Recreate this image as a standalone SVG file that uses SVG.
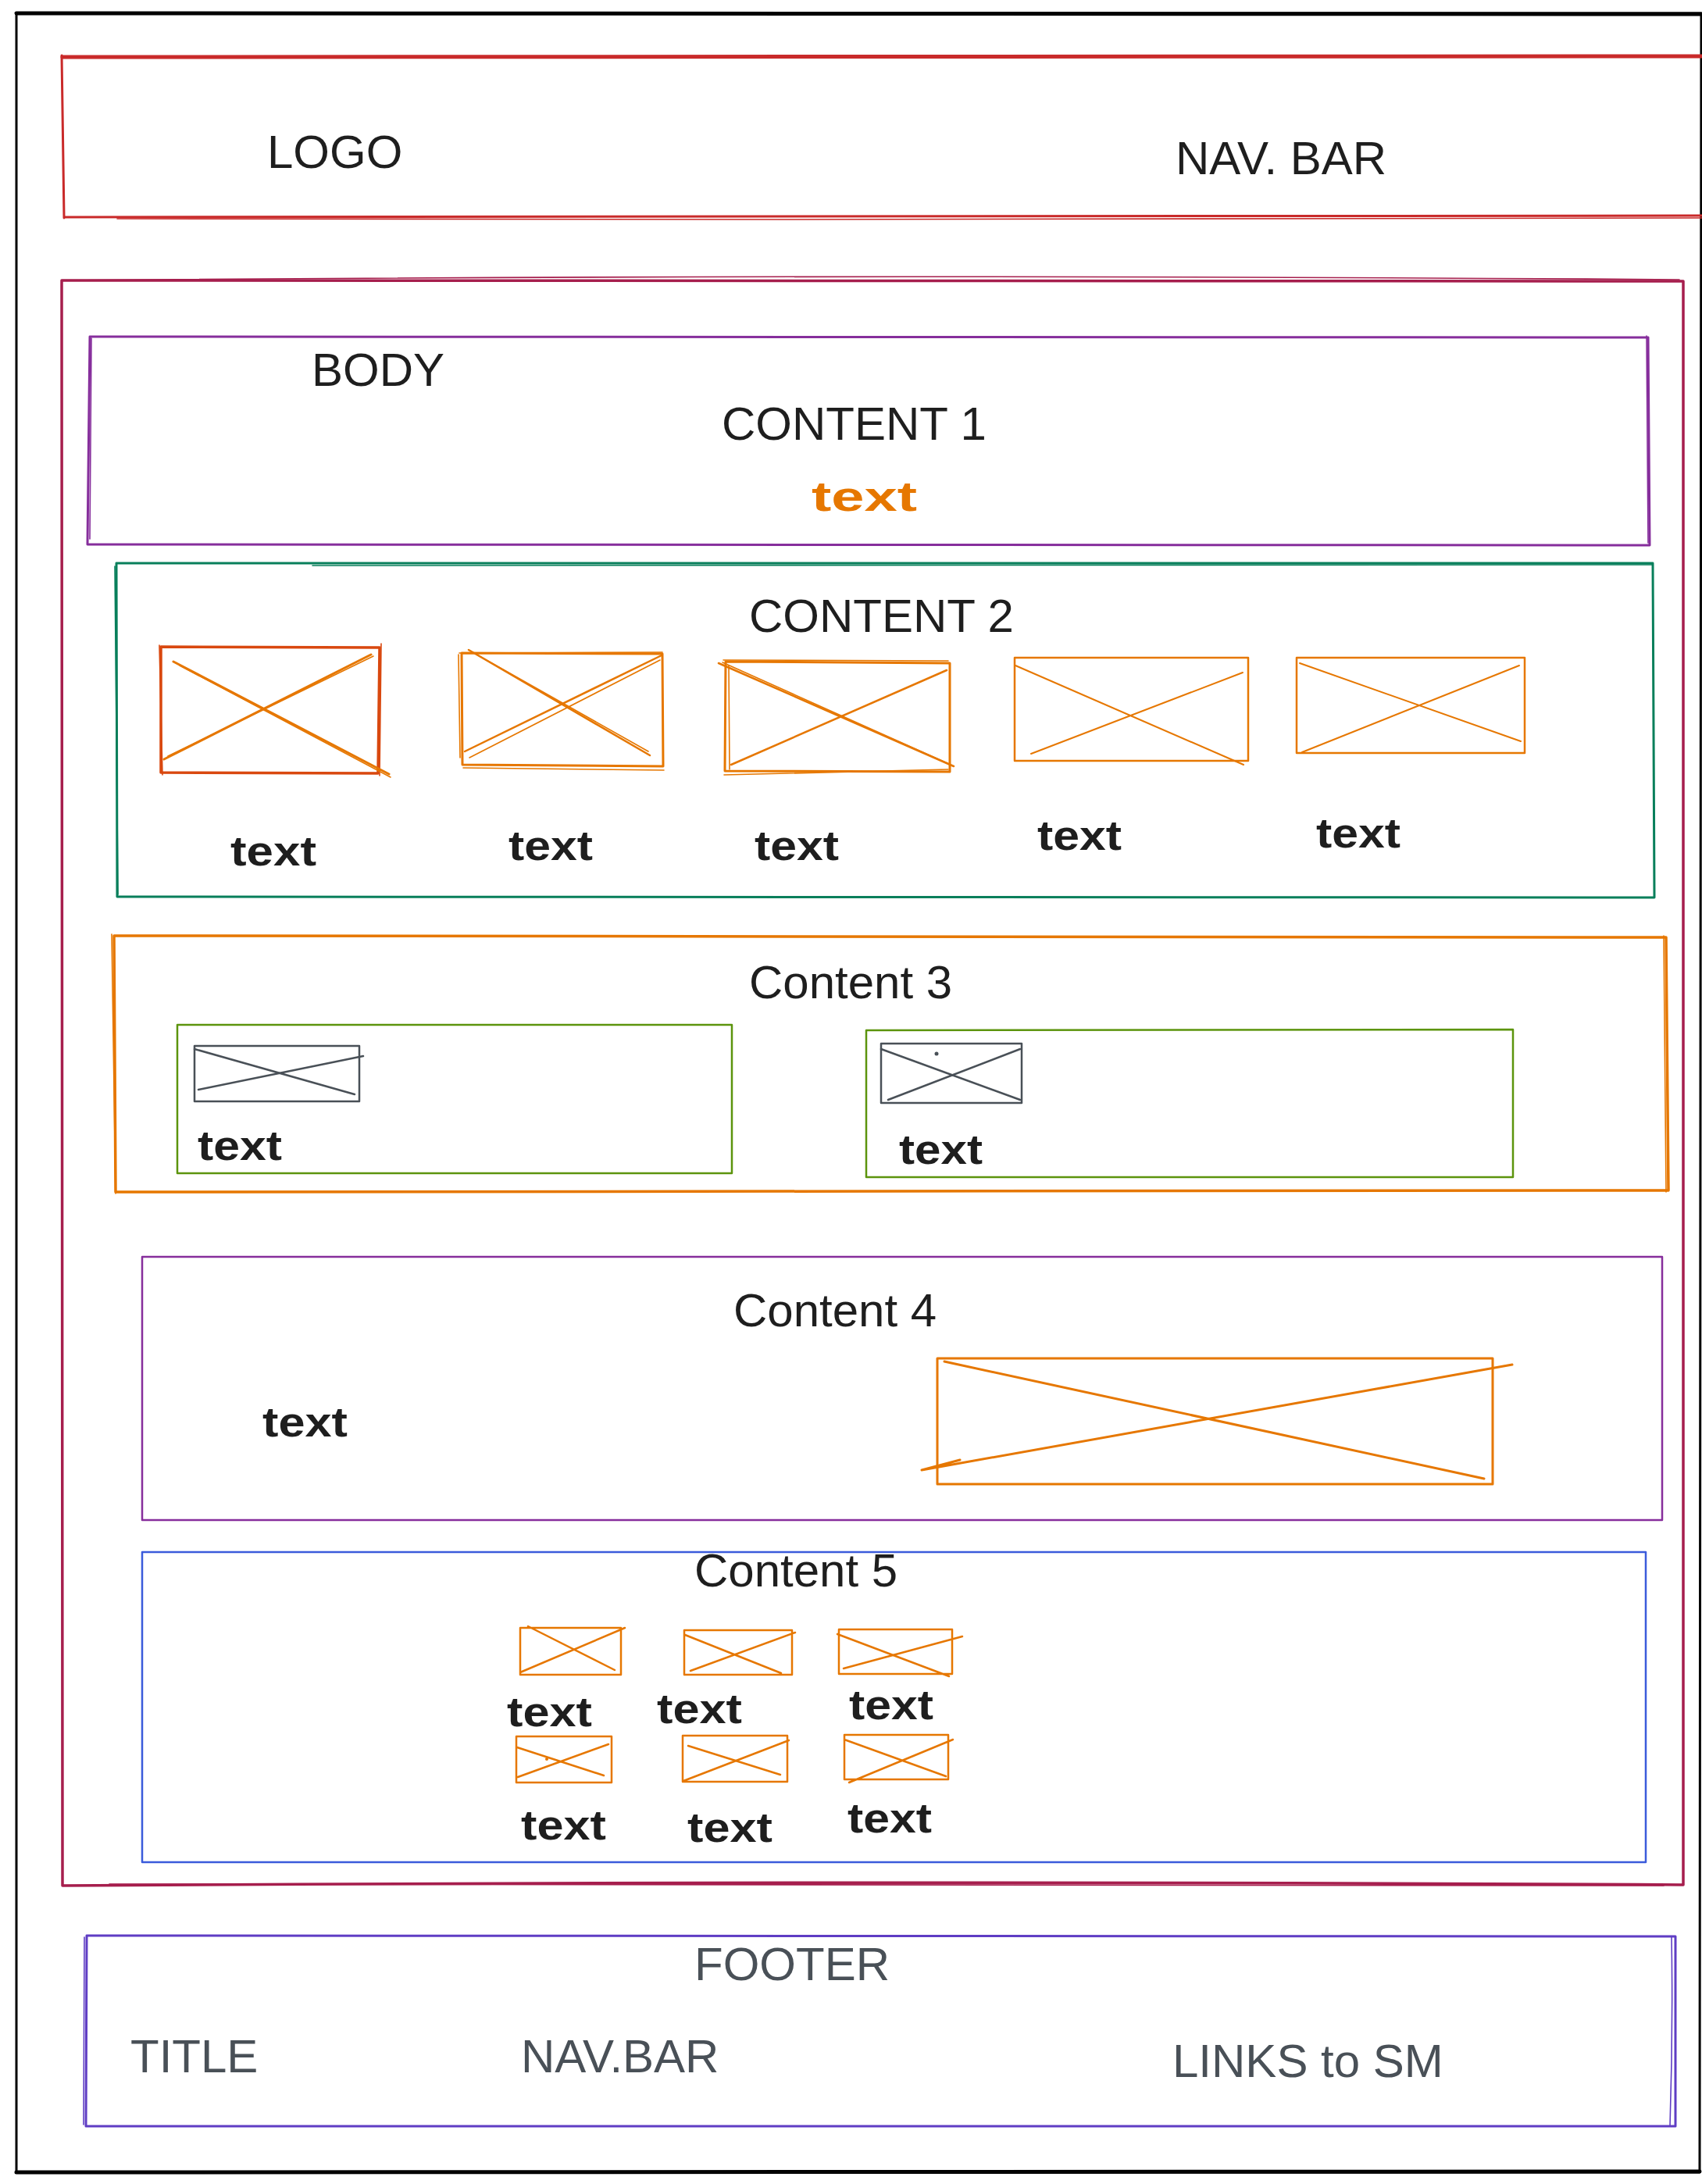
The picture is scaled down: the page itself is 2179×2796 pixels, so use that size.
<svg xmlns="http://www.w3.org/2000/svg" width="2179" height="2796" viewBox="0 0 2179 2796">
<style>
.s{fill:none;stroke-linecap:round;stroke-linejoin:round}
.s2{fill:none;stroke-linecap:round;stroke-linejoin:round;stroke-width:1.6}
.lbl{font-family:"Liberation Sans",Arial,sans-serif;font-size:60px;fill:#1e1e1e}
.gray{fill:#495057}
.hand{font-family:"Liberation Sans",Arial,sans-serif;font-weight:bold;font-size:54px;fill:#1e1e1e}
.orgtxt{fill:#e67700}
.red{stroke:#c92a2a}
.crim{stroke:#a61e4d}
.pur{stroke:#862e9c}
.grn{stroke:#087f5b}
.org{stroke:#e67700}
.dorg{stroke:#d9480f}
.lime{stroke:#5c940d}
.gry{stroke:#495057}
.blu{stroke:#3b5bdb}
.vio{stroke:#5f3dc4}
</style>
<rect width="2179" height="2796" fill="#ffffff"/>

<g id="frame">
<path class="s" stroke="#000" stroke-width="3" d="M21,17 L2178,17 L2176,2781 L21,2781 Z"/>
<path class="s" stroke="#000" stroke-width="5" d="M21,17 L2178,18 M21,2781 L2176,2780"/>
</g>

<g id="header">
<path class="s red" stroke-width="5" d="M80,73 L2179,72"/>
<path class="s red" stroke-width="3" d="M79,71 L82,279 M82,278 L2179,276"/>
<path class="s2 red" d="M150,280 L1000,281 L2179,279"/>
<text class="lbl" x="342" y="215">LOGO</text>
<text class="lbl" x="1505" y="223">NAV. BAR</text>
</g>

<g id="body">
<path class="s crim" stroke-width="3.5" d="M79,359 L2155,360 L2155,2413 Q1100,2407 80,2414 Z"/>
<path class="s2 crim" d="M79,359 Q1100,350 2150,358 M140,2412 Q1200,2409 2130,2414"/>
<text class="lbl" x="399" y="494">BODY</text>
</g>

<g id="content1">
<path class="s pur" stroke-width="3" d="M115,431 L2110,432 L2112,698 L112,697 Z"/>
<path class="s2 pur" d="M117,433 L115,690 M2108,430 L2110,695"/>
<text class="lbl" x="924" y="563">CONTENT 1</text>
<text class="hand orgtxt" x="1039" y="654" font-size="64" textLength="135" lengthAdjust="spacingAndGlyphs">text</text>
</g>

<g id="content2">
<path class="s grn" stroke-width="3" d="M149,721 L2116,721 L2118,1149 L150,1148 Z"/>
<path class="s2 grn" d="M400,724 Q1100,720 2116,723 M147,725 L151,1145"/>
<text class="lbl" x="959" y="809">CONTENT 2</text>

<g id="img2-1">
<path class="s dorg" stroke-width="3.5" d="M206,828 L486,829 L484,990 L206,989 Z"/>
<path class="s2 dorg" d="M204,826 L208,992 M488,824 L486,993"/>
<path class="s org" stroke-width="3" d="M222,847 L498,991 M210,972 L475,838"/>
<path class="s2 org" d="M215,968 L478,840 M230,852 L500,995"/>
</g>
<g id="img2-2">
<path class="s org" stroke-width="3" d="M591,836 L848,837 L849,981 L592,979 Z"/>
<path class="s2 org" d="M587,838 L589,970 M593,983 L850,986 M588,836 L848,835"/>
<path class="s org" stroke-width="2.5" d="M600,832 L832,967 M595,962 L847,839"/>
<path class="s2 org" d="M605,835 L830,962 M601,970 L845,845"/>
</g>
<g id="img2-3">
<path class="s org" stroke-width="3" d="M929,847 L1216,849 L1216,988 L928,987 Z"/>
<path class="s2 org" d="M933,852 L934,985 M927,992 L1214,985 M926,845 L1214,846"/>
<path class="s org" stroke-width="2.5" d="M920,849 L1221,981 M936,979 L1212,858"/>
<path class="s2 org" d="M925,848 L1215,978"/>
</g>
<g id="img2-4">
<path class="s org" stroke-width="2.5" d="M1299,842 L1598,842 L1598,974 L1299,974 Z"/>
<path class="s org" stroke-width="2" d="M1300,852 L1592,979 M1320,965 L1591,861"/>
</g>
<g id="img2-5">
<path class="s org" stroke-width="2.5" d="M1660,842 L1952,842 L1952,964 L1660,964 Z"/>
<path class="s org" stroke-width="2" d="M1664,849 L1947,949 M1667,963 L1945,852"/>
</g>
<text class="hand" x="295" y="1108" textLength="110" lengthAdjust="spacingAndGlyphs">text</text>
<text class="hand" x="651" y="1101" textLength="108" lengthAdjust="spacingAndGlyphs">text</text>
<text class="hand" x="966" y="1101" textLength="108" lengthAdjust="spacingAndGlyphs">text</text>
<text class="hand" x="1328" y="1088" textLength="108" lengthAdjust="spacingAndGlyphs">text</text>
<text class="hand" x="1685" y="1085" textLength="108" lengthAdjust="spacingAndGlyphs">text</text>
</g>

<g id="content3">
<path class="s org" stroke-width="3.5" d="M146,1198 L2133,1200 L2136,1524 L148,1526 Z"/>
<path class="s2 org" d="M143,1196 L148,1528 M2130,1198 L2133,1526"/>
<text class="lbl" x="959" y="1278">Content 3</text>
<g id="card3-1">
<path class="s lime" stroke-width="2.5" d="M227,1312 L937,1312 L937,1502 L227,1502 Z"/>
<path class="s gry" stroke-width="2.5" d="M249,1339 L460,1339 L460,1410 L249,1410 Z"/>
<path class="s gry" stroke-width="2.5" d="M249,1343 L454,1401 M254,1395 L465,1352"/>
<text class="hand" x="253" y="1485" textLength="108" lengthAdjust="spacingAndGlyphs">text</text>
</g>
<g id="card3-2">
<path class="s lime" stroke-width="2.5" d="M1109,1319 L1937,1318 L1937,1507 L1109,1507 Z"/>
<path class="s gry" stroke-width="2.5" d="M1128,1336 L1308,1336 L1308,1412 L1128,1412 Z"/>
<path class="s gry" stroke-width="2.5" d="M1128,1343 L1306,1408 M1137,1408 L1306,1343"/>
<circle cx="1199" cy="1349" r="2.5" fill="#495057"/>
<text class="hand" x="1151" y="1490" textLength="107" lengthAdjust="spacingAndGlyphs">text</text>
</g>
</g>

<g id="content4">
<path class="s pur" stroke-width="2.5" d="M182,1609 L2128,1609 L2128,1946 L182,1946 Z"/>
<text class="lbl" x="939" y="1698">Content 4</text>
<text class="hand" x="336" y="1839" textLength="109" lengthAdjust="spacingAndGlyphs">text</text>
<g id="img4">
<path class="s org" stroke-width="3" d="M1200,1739 L1911,1739 L1911,1900 L1200,1900 Z"/>
<path class="s org" stroke-width="3" d="M1209,1743 L1900,1893 M1936,1747 L1180,1882 L1229,1869"/>
</g>
</g>

<g id="content5">
<path class="s blu" stroke-width="2.5" d="M182,1987 L2107,1987 L2107,2384 L182,2384 Z"/>
<text class="lbl" x="889" y="2031">Content 5</text>
<g id="img5">
<path class="s org" stroke-width="2.5" d="M666,2084 L795,2084 L795,2144 L666,2144 Z M676,2082 L787,2138 M666,2141 L800,2084"/>
<path class="s org" stroke-width="2.5" d="M876,2087 L1014,2087 L1014,2144 L876,2144 Z M877,2093 L1000,2142 M884,2139 L1018,2090"/>
<path class="s org" stroke-width="2.5" d="M1074,2086 L1219,2086 L1219,2143 L1074,2143 Z M1072,2092 L1215,2146 M1080,2136 L1232,2095"/>
<path class="s org" stroke-width="2.5" d="M661,2223 L783,2223 L783,2282 L661,2282 Z M662,2237 L773,2273 M663,2275 L779,2233"/>
<circle cx="700" cy="2252" r="2" fill="#e67700"/>
<path class="s org" stroke-width="2.5" d="M874,2222 L1008,2222 L1008,2281 L874,2281 Z M881,2235 L999,2272 M875,2280 L1010,2228"/>
<path class="s org" stroke-width="2.5" d="M1081,2221 L1214,2221 L1214,2278 L1081,2278 Z M1081,2227 L1211,2274 M1087,2282 L1220,2227"/>
</g>
<text class="hand" x="649" y="2210" textLength="109" lengthAdjust="spacingAndGlyphs">text</text>
<text class="hand" x="841" y="2206" textLength="109" lengthAdjust="spacingAndGlyphs">text</text>
<text class="hand" x="1087" y="2201" textLength="108" lengthAdjust="spacingAndGlyphs">text</text>
<text class="hand" x="667" y="2355" textLength="109" lengthAdjust="spacingAndGlyphs">text</text>
<text class="hand" x="880" y="2358" textLength="109" lengthAdjust="spacingAndGlyphs">text</text>
<text class="hand" x="1085" y="2346" textLength="108" lengthAdjust="spacingAndGlyphs">text</text>
</g>

<g id="footer">
<path class="s vio" stroke-width="3" d="M111,2478 L2145,2479 L2145,2722 L110,2722 Z"/>
<path class="s2 vio" d="M108,2480 L107,2720 M2140,2479 Q2142,2600 2138,2722"/>
<text class="lbl gray" x="889" y="2535">FOOTER</text>
<text class="lbl gray" x="167" y="2653">TITLE</text>
<text class="lbl gray" x="667" y="2653">NAV.BAR</text>
<text class="lbl gray" x="1501" y="2659">LINKS to SM</text>
</g>
</svg>
